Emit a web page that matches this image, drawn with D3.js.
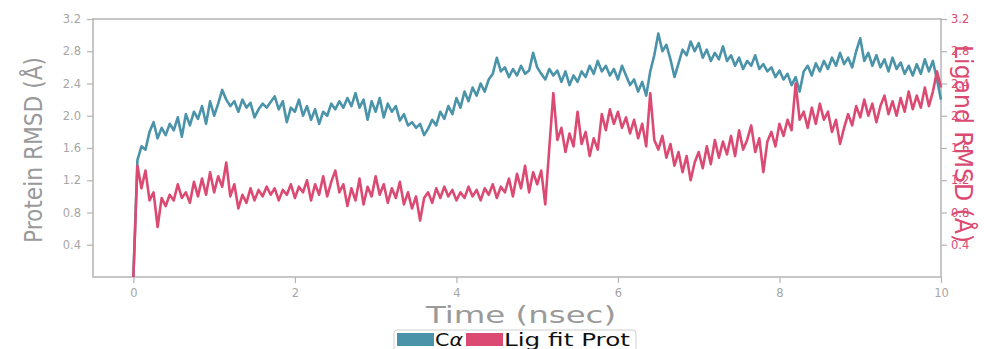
<!DOCTYPE html>
<html>
<head>
<meta charset="utf-8">
<script src="https://cdn.jsdelivr.net/npm/d3@7"></script>
<style>
  body { margin: 0; background: #fff; }
  svg { display: block; }
</style>
</head>
<body>
<div id="chart"></div>
<script>
// frame spacing in ns (values below are one per frame, starting at t = 0)
const frameStep = 0.05

const caRmsd = [
  0.00, 1.45, 1.62, 1.58, 1.80, 1.92, 1.72, 1.85, 1.76, 1.90,
  1.82, 1.98, 1.74, 2.02, 1.88, 2.05, 1.96, 2.12, 1.90, 2.18,
  2.00, 2.15, 2.32, 2.20, 2.12, 2.18, 2.05, 2.20, 2.10, 2.16,
  1.98, 2.08, 2.15, 2.10, 2.17, 2.24, 2.08, 2.18, 1.92, 2.10,
  2.05, 2.20, 2.00, 2.12, 1.95, 2.08, 1.90, 2.05, 2.00, 2.15,
  2.08, 2.18, 2.10, 2.22, 2.12, 2.28, 2.10, 2.20, 1.95, 2.18,
  2.05, 2.22, 1.98, 2.15, 2.05, 2.12, 1.94, 2.02, 1.88, 1.92,
  1.85, 1.90, 1.76, 1.84, 1.95, 1.88, 2.05, 1.96, 2.12, 2.02,
  2.22, 2.10, 2.30, 2.18, 2.35, 2.25, 2.40, 2.30, 2.45, 2.52,
  2.72, 2.55, 2.60, 2.48, 2.58, 2.50, 2.62, 2.52, 2.56, 2.78,
  2.60, 2.52, 2.45, 2.58, 2.50, 2.56, 2.42, 2.55, 2.38, 2.50,
  2.42, 2.55, 2.48, 2.62, 2.52, 2.68, 2.55, 2.62, 2.50, 2.58,
  2.45, 2.62, 2.50, 2.38, 2.45, 2.30, 2.42, 2.25, 2.55, 2.75,
  3.02, 2.80, 2.88, 2.70, 2.48, 2.65, 2.82, 2.75, 2.92, 2.80,
  2.90, 2.72, 2.82, 2.68, 2.78, 2.70, 2.86, 2.68, 2.75, 2.62,
  2.72, 2.58, 2.68, 2.62, 2.75, 2.58, 2.64, 2.55, 2.60, 2.48,
  2.56, 2.45, 2.52, 2.38, 2.48, 2.30, 2.55, 2.62, 2.50, 2.65,
  2.55, 2.68, 2.58, 2.72, 2.62, 2.78, 2.64, 2.72, 2.60, 2.80,
  2.96, 2.68, 2.78, 2.62, 2.75, 2.60, 2.70, 2.55, 2.72, 2.58,
  2.66, 2.52, 2.62, 2.50, 2.64, 2.52, 2.70, 2.55, 2.68, 2.45,
  2.20,
]

const ligRmsd = [
  0.00, 1.38, 1.10, 1.32, 0.95, 1.05, 0.62, 0.98, 0.88, 1.02,
  0.95, 1.15, 0.98, 1.05, 0.92, 1.18, 1.00, 1.22, 1.02, 1.30,
  1.05, 1.25, 1.12, 1.42, 1.00, 1.15, 0.85, 1.02, 0.92, 1.10,
  0.95, 1.08, 1.00, 1.12, 1.02, 1.10, 0.95, 1.08, 1.02, 1.15,
  0.98, 1.12, 1.05, 1.20, 0.95, 1.15, 1.02, 1.25, 1.00, 1.18,
  1.32, 1.05, 1.15, 0.88, 1.10, 0.95, 1.22, 0.90, 1.12, 1.00,
  1.25, 1.02, 1.15, 0.92, 1.10, 0.98, 1.18, 0.90, 1.05, 0.85,
  1.00, 0.70, 0.98, 1.05, 0.92, 1.10, 0.98, 1.12, 1.00, 1.08,
  0.95, 1.05, 0.98, 1.12, 1.00, 1.08, 0.95, 1.10, 1.02, 1.15,
  0.98, 1.12, 1.05, 1.22, 1.00, 1.28, 1.10, 1.38, 1.05, 1.30,
  1.15, 1.32, 0.90, 1.60, 2.28, 1.70, 1.85, 1.55, 1.78, 1.62,
  2.05, 1.65, 1.80, 1.50, 1.72, 1.58, 2.02, 1.82, 2.08, 1.90,
  2.05, 1.85, 1.98, 1.78, 1.95, 1.72, 1.90, 1.62, 2.28, 1.70,
  1.58, 1.75, 1.48, 1.65, 1.38, 1.55, 1.30, 1.50, 1.20, 1.42,
  1.55, 1.35, 1.62, 1.40, 1.70, 1.48, 1.68, 1.52, 1.75, 1.50,
  1.82, 1.58, 1.70, 1.88, 1.55, 1.72, 1.30, 1.68, 1.80, 1.62,
  1.90, 1.75, 1.95, 1.82, 2.40, 1.95, 2.05, 1.85, 2.10, 1.90,
  2.15, 1.95, 2.05, 1.80, 1.95, 1.65, 1.85, 2.02, 1.88, 2.12,
  1.98, 2.20, 2.00, 2.15, 1.92, 2.12, 2.25, 2.02, 2.18, 2.00,
  2.22, 2.05, 2.30, 2.08, 2.25, 2.10, 2.35, 2.12, 2.30, 2.55,
  2.35,
]

const xTicks = [0, 2, 4, 6, 8, 10]
const yTicks = [0.4, 0.8, 1.2, 1.6, 2.0, 2.4, 2.8, 3.2]

const teal = '#4a93a8'
const pink = '#db4a72'
const spine = '#b4b4b4'
const tickText = '#a6a6a6'

const width = 984
const height = 349
const plot = { left: 93, right: 941, top: 19, bottom: 277 }

const svg = d3
  .select('#chart')
  .append('svg')
  .attr('width', width)
  .attr('height', height)

const xScale = d3.scaleLinear().domain([-0.5, 10]).range([plot.left, plot.right])
const yScale = d3.scaleLinear().domain([0, 3.2]).range([plot.bottom, plot.top])

// frame box
svg
  .append('rect')
  .attr('x', plot.left)
  .attr('y', plot.top)
  .attr('width', plot.right - plot.left)
  .attr('height', plot.bottom - plot.top)
  .attr('fill', 'none')
  .attr('stroke', spine)
  .attr('stroke-width', 1.5)

const styleAxis = (g, color) => {
  g.select('.domain').remove()
  g.selectAll('.tick line').attr('stroke', spine).attr('stroke-width', 1.2)
  g.selectAll('.tick text')
    .attr('fill', color)
    .attr('font-family', 'DejaVu Sans, sans-serif')
    .attr('font-size', 11.5)
}

svg
  .append('g')
  .attr('transform', `translate(0,${plot.bottom})`)
  .call(d3.axisBottom(xScale).tickValues(xTicks).tickSize(6).tickPadding(6).tickFormat(d3.format('d')))
  .call((g) => styleAxis(g, tickText))

svg
  .append('g')
  .attr('transform', `translate(${plot.left},0)`)
  .call(d3.axisLeft(yScale).tickValues(yTicks).tickSize(6).tickPadding(6).tickFormat(d3.format('.1f')))
  .call((g) => styleAxis(g, tickText))

svg
  .append('g')
  .attr('transform', `translate(${plot.right},0)`)
  .call(d3.axisRight(yScale).tickValues(yTicks).tickSize(6).tickPadding(4).tickFormat(d3.format('.1f')))
  .call((g) => styleAxis(g, pink))

// -- RMSD lines
const line = d3
  .line()
  .x((d, i) => xScale(i * frameStep))
  .y((d) => yScale(d))

svg
  .append('path')
  .datum(caRmsd)
  .attr('fill', 'none')
  .attr('stroke', teal)
  .attr('stroke-width', 2.6)
  .attr('stroke-linejoin', 'round')
  .attr('d', line)

svg
  .append('path')
  .datum(ligRmsd)
  .attr('fill', 'none')
  .attr('stroke', pink)
  .attr('stroke-width', 2.6)
  .attr('stroke-linejoin', 'round')
  .attr('d', line)

// -- axis titles
svg
  .append('text')
  .attr('transform', `translate(42,${(plot.top + plot.bottom) / 2 + 2}) rotate(-90)`)
  .attr('text-anchor', 'middle')
  .attr('font-family', 'Liberation Sans Narrow, DejaVu Sans Condensed, sans-serif')
  .attr('font-size', 25)
  .attr('fill', '#9a9a9a')
  .attr('textLength', 186)
  .attr('lengthAdjust', 'spacingAndGlyphs')
  .text('Protein RMSD (\u00c5)')

svg
  .append('text')
  .attr('transform', `translate(955,${(plot.top + plot.bottom) / 2 - 4}) rotate(90)`)
  .attr('text-anchor', 'middle')
  .attr('font-family', 'Liberation Sans Narrow, DejaVu Sans Condensed, sans-serif')
  .attr('font-size', 25)
  .attr('fill', pink)
  .attr('textLength', 198)
  .attr('lengthAdjust', 'spacingAndGlyphs')
  .text('Ligand RMSD (\u00c5)')

svg
  .append('text')
  .attr('x', xScale(4.8))
  .attr('y', 323)
  .attr('text-anchor', 'middle')
  .attr('font-family', 'DejaVu Sans, sans-serif')
  .attr('font-size', 23)
  .attr('fill', '#9a9a9a')
  .attr('textLength', 190)
  .attr('lengthAdjust', 'spacingAndGlyphs')
  .text('Time (nsec)')

// -- legend
const legend = svg.append('g')
legend
  .append('rect')
  .attr('x', 394)
  .attr('y', 330)
  .attr('width', 242)
  .attr('height', 26)
  .attr('rx', 3)
  .attr('fill', '#fff')
  .attr('stroke', '#cfcfcf')

const legendItems = [
  { base: 'C', greek: '\u03b1', color: teal, x: 397, textW: 28 },
  { base: 'Lig fit Prot', greek: '', color: pink, x: 466, textW: 126 },
]
legendItems.forEach(({ base, greek, color, x, textW }) => {
  legend
    .append('rect')
    .attr('x', x)
    .attr('y', 333)
    .attr('width', 37)
    .attr('height', 13)
    .attr('fill', color)
  const label = legend
    .append('text')
    .attr('x', x + 38)
    .attr('y', 346)
    .attr('font-family', 'DejaVu Sans, sans-serif')
    .attr('font-size', 18)
    .attr('fill', '#111')
    .attr('textLength', textW)
    .attr('lengthAdjust', 'spacingAndGlyphs')
  label.append('tspan').text(base)
  if (greek) label.append('tspan').attr('font-style', 'italic').text(greek)
})
</script>
</body>
</html>
